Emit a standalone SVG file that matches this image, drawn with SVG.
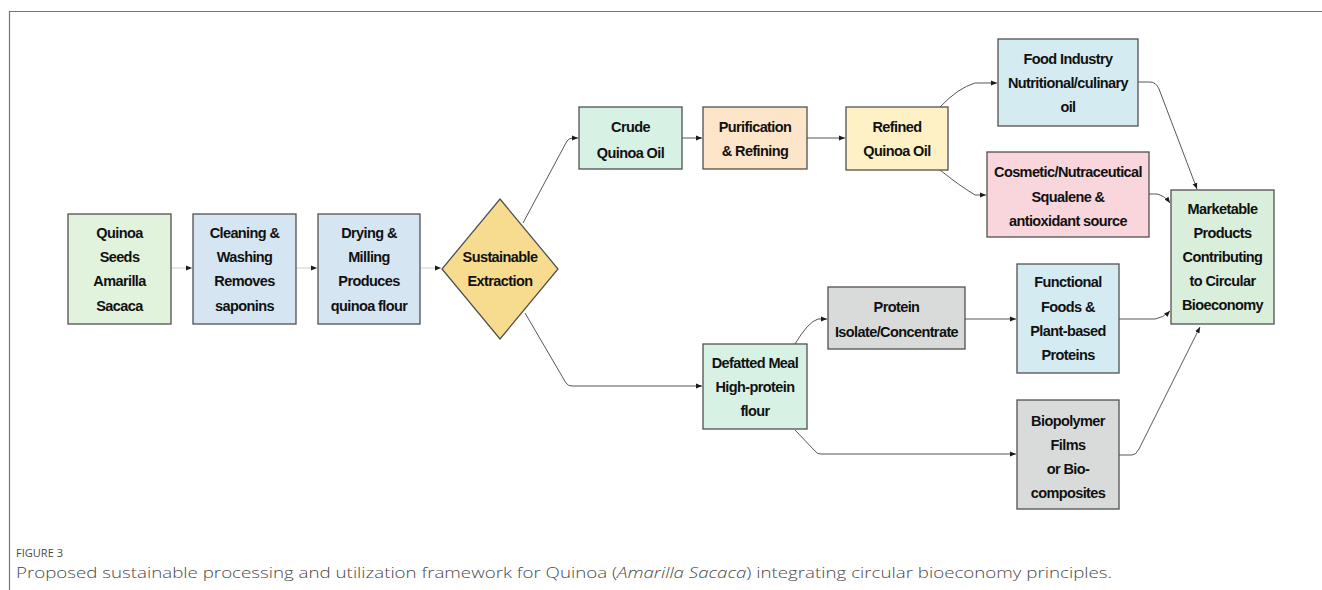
<svg xmlns="http://www.w3.org/2000/svg" width="1322" height="590" viewBox="0 0 1322 590">
<defs>
<marker id="ah" viewBox="0 0 6 6" refX="6" refY="3" markerWidth="6" markerHeight="6" markerUnits="userSpaceOnUse" orient="auto"><path d="M0,0.6 L6,3 L0,5.4z" fill="#1a1a1a"/></marker>
<style>
.box{stroke:#505050;stroke-width:1.3}
.t{font-family:"Liberation Sans",Arial,sans-serif;font-weight:bold;font-size:14.5px;letter-spacing:-0.6px;fill:#111;text-anchor:middle}
.c{fill:none;stroke:#444;stroke-width:0.9;marker-end:url(#ah)}
.cl{fill:none;stroke:#cfcfcf;stroke-width:1;marker-end:url(#ah)}
.cap{font-family:"Open Sans","Noto Sans",sans-serif;fill:#4a4a4a}
</style>
</defs>
<rect width="1322" height="590" fill="#fff"/>
<path d="M9.5,590 V11.5 H1322" fill="none" stroke="#74747e" stroke-width="1.2"/>

<g id="connectors">
<path class="cl" d="M171,268 H192"/>
<path class="cl" d="M296,268 H317"/>
<path class="cl" d="M420,268 H441"/>
<path class="c" d="M523,223 L567,141 Q569,138 573,138 H578"/>
<path class="c" d="M682,138 H702"/>
<path class="c" d="M807,138 H845"/>
<path class="c" d="M940,107 Q958,88 975,83 H997"/>
<path class="c" d="M940,170 Q960,186 975,195 H986"/>
<path class="c" d="M525,313 L566,383 Q568,386 572,386 H702"/>
<path class="c" d="M795,344 Q808,322 818,319 H827"/>
<path class="c" d="M965,319 H1016"/>
<path class="c" d="M795,430 L815,451 Q817,454 821,454 H1016"/>
<path class="c" d="M1138,82 H1150 Q1156,82 1159,89 L1197,189"/>
<path class="c" d="M1149,194 H1157 Q1165,196 1170,203"/>
<path class="c" d="M1119,319 H1155 Q1163,318 1170,311"/>
<path class="c" d="M1119,455 H1132 Q1136,455 1139,449 L1200,327"/>
</g>

<g id="n-seeds"><rect class="box" x="68" y="214" width="103" height="110" fill="#e1f3dd"/>
<text class="t" x="119.5" y="238">Quinoa</text><text class="t" x="119.5" y="262">Seeds</text><text class="t" x="119.5" y="286">Amarilla</text><text class="t" x="119.5" y="311">Sacaca</text></g>

<g id="n-cleaning"><rect class="box" x="193" y="214" width="103" height="110" fill="#d5e5f2"/>
<text class="t" x="244.5" y="238">Cleaning &amp;</text><text class="t" x="244.5" y="262">Washing</text><text class="t" x="244.5" y="286">Removes</text><text class="t" x="244.5" y="311">saponins</text></g>

<g id="n-drying"><rect class="box" x="318" y="214" width="102" height="110" fill="#d5e5f2"/>
<text class="t" x="369" y="238">Drying &amp;</text><text class="t" x="369" y="262">Milling</text><text class="t" x="369" y="286">Produces</text><text class="t" x="369" y="311">quinoa flour</text></g>

<g id="n-extraction"><polygon class="box" points="500,199 558,269 500,339 442,269" fill="#f7dc8f" stroke="#333"/>
<text class="t" x="500" y="262">Sustainable</text><text class="t" x="500" y="286">Extraction</text></g>

<g id="n-crude"><rect class="box" x="579" y="107" width="103" height="62" fill="#d7f1e5"/>
<text class="t" x="630.5" y="132">Crude</text><text class="t" x="630.5" y="158">Quinoa Oil</text></g>

<g id="n-purification"><rect class="box" x="703" y="107" width="104" height="62" fill="#fce5c9"/>
<text class="t" x="755" y="132">Purification</text><text class="t" x="755" y="156">&amp; Refining</text></g>

<g id="n-refined"><rect class="box" x="846" y="107" width="102" height="63" fill="#fff1c6"/>
<text class="t" x="897" y="132">Refined</text><text class="t" x="897" y="156">Quinoa Oil</text></g>

<g id="n-food"><rect class="box" x="998" y="39" width="140" height="87" fill="#d3ebf1"/>
<text class="t" x="1068" y="64">Food Industry</text><text class="t" x="1068" y="88">Nutritional/culinary</text><text class="t" x="1068" y="112">oil</text></g>

<g id="n-cosmetic"><rect class="box" x="987" y="152" width="162" height="85" fill="#f8d6dc"/>
<text class="t" x="1068" y="177">Cosmetic/Nutraceutical</text><text class="t" x="1068" y="202">Squalene &amp;</text><text class="t" x="1068" y="226">antioxidant source</text></g>

<g id="n-marketable"><rect class="box" x="1171" y="190" width="103" height="134" fill="#d9efdb"/>
<text class="t" x="1222.5" y="214">Marketable</text><text class="t" x="1222.5" y="238">Products</text><text class="t" x="1222.5" y="262">Contributing</text><text class="t" x="1222.5" y="286">to Circular</text><text class="t" x="1222.5" y="310">Bioeconomy</text></g>

<g id="n-defatted"><rect class="box" x="703" y="344" width="104" height="85" fill="#d7f1e5"/>
<text class="t" x="755" y="368">Defatted Meal</text><text class="t" x="755" y="392">High-protein</text><text class="t" x="755" y="416">flour</text></g>

<g id="n-protein"><rect class="box" x="828" y="287" width="137" height="62" fill="#d9dbdb"/>
<text class="t" x="896.5" y="312">Protein</text><text class="t" x="896.5" y="337">Isolate/Concentrate</text></g>

<g id="n-functional"><rect class="box" x="1017" y="264" width="102" height="109" fill="#d3ebf1"/>
<text class="t" x="1068" y="287">Functional</text><text class="t" x="1068" y="312">Foods &amp;</text><text class="t" x="1068" y="336">Plant-based</text><text class="t" x="1068" y="360">Proteins</text></g>

<g id="n-biopolymer"><rect class="box" x="1017" y="400" width="102" height="109" fill="#d9dbdb"/>
<text class="t" x="1068" y="426">Biopolymer</text><text class="t" x="1068" y="450">Films</text><text class="t" x="1068" y="474">or Bio-</text><text class="t" x="1068" y="498">composites</text></g>

<g id="caption">
<text class="cap" x="16" y="557" font-size="11.5" textLength="47" lengthAdjust="spacingAndGlyphs">FIGURE 3</text>
<text class="cap" x="16" y="578" font-size="15" font-weight="300" textLength="1096" lengthAdjust="spacingAndGlyphs">Proposed sustainable processing and utilization framework for Quinoa (<tspan font-style="italic">Amarilla Sacaca</tspan>) integrating circular bioeconomy principles.</text>
</g>
</svg>
